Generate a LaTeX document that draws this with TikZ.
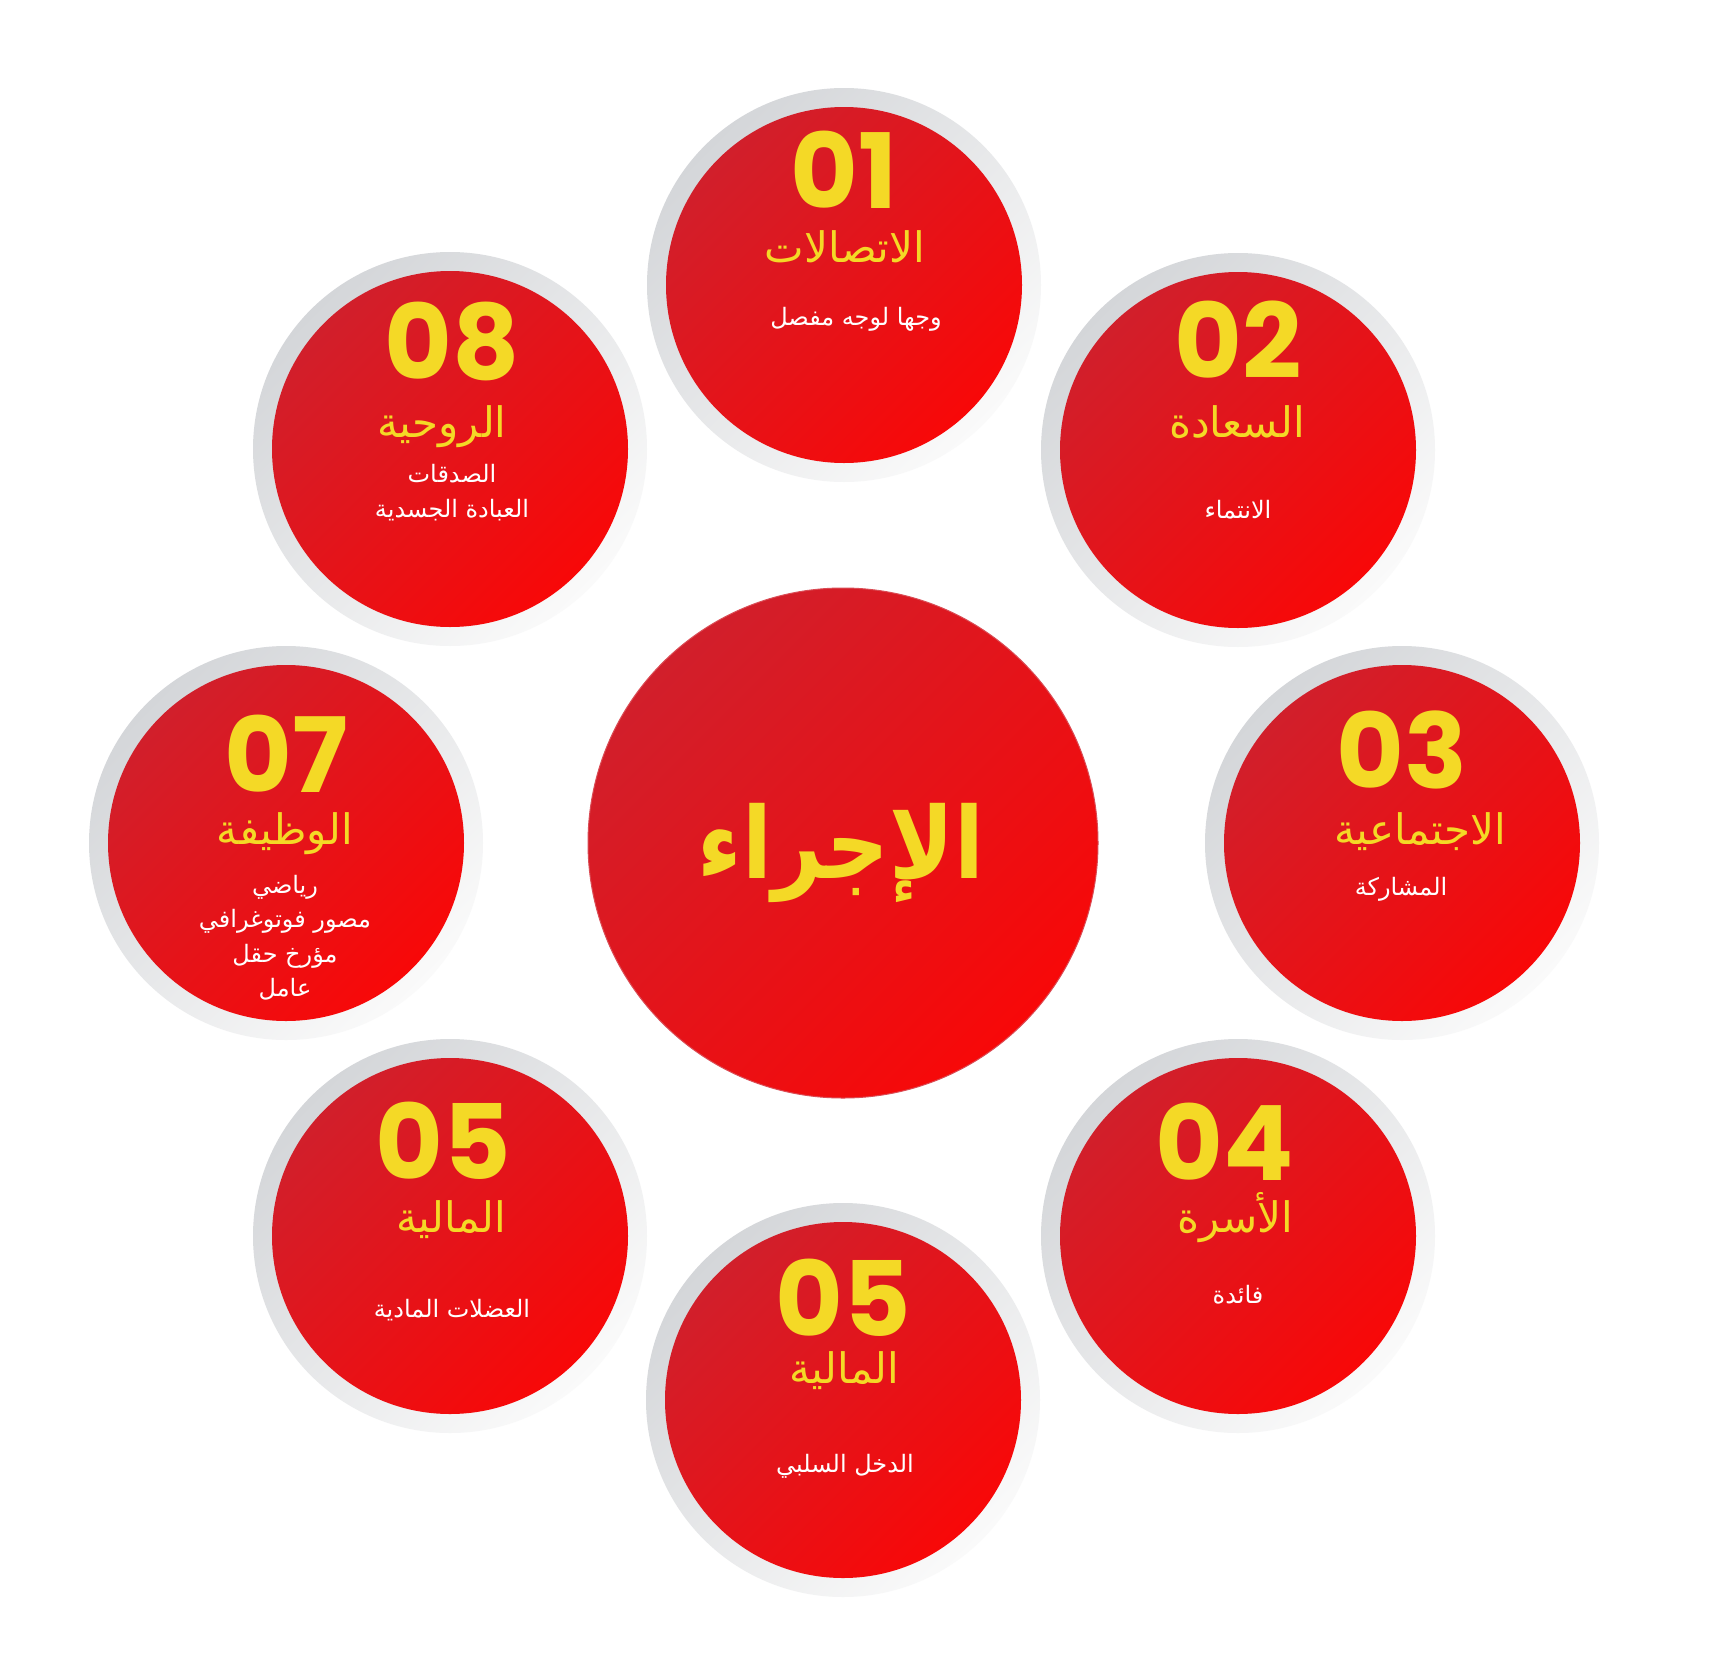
\documentclass[tikz,border=0pt]{standalone}
\usepackage{fontspec}
\usetikzlibrary{positioning}
\TeXXeTstate=1
\newfontfamily\arabicfont[Script=Arabic]{DejaVu Sans}
\newfontfamily\hubfont[Script=Arabic,FakeStretch=0.88]{DejaVu Sans}
\newfontfamily\numfont{Poppins}
\definecolor{ringgray}{RGB}{212,214,217}
\definecolor{ringwhite}{RGB}{250,250,250}
\definecolor{deepred}{RGB}{209,31,43}
\definecolor{brightred}{RGB}{248,8,8}
\definecolor{gold}{RGB}{244,217,38}

\begin{document}
\begin{tikzpicture}[
    x=1pt, y=-1pt,
    ring/.style={circle, minimum size=394pt, inner sep=0pt, top color=ringgray, bottom color=ringwhite, shading angle=45},
    disc/.style={circle, minimum size=356pt, inner sep=0pt, top color=deepred, bottom color=brightred, shading angle=45},
    hub/.style={disc, minimum size=510pt, draw=deepred!80, line width=1pt},
    num/.style={anchor=base, inner sep=0pt, text=gold, font=\numfont\bfseries\fontsize{104}{104}\selectfont},
    head/.style={anchor=base, inner sep=0pt, text=gold, font=\arabicfont\fontsize{42}{42}\selectfont},
    note/.style={anchor=base, inner sep=0pt, text=white, font=\arabicfont\fontsize{24}{24}\selectfont}
  ]
    \fill[white] (0,0) rectangle (1714,1660);
    \useasboundingbox (0,0) rectangle (1714,1660);

    % centre
    \node[hub] (hub) at (843,843) {};
    \node[anchor=base, inner sep=0pt, text=gold, font=\hubfont\bfseries\fontsize{99}{99}\selectfont] (hubtitle) at (841,878) {\beginR الإجراء\endR};

    % 01
    \node[ring] (ring1) at (844,285) {};
    \node[disc] (disc1) at (ring1.center) {};
    \node[num] (num1) at (844,208) {01};
    \node[head] (head1) at (845,262) {\beginR الاتصالات\endR};
    \node[note] (note1) at (856,325) {\beginR وجها لوجه مفصل\endR};

    % 02
    \node[ring] (ring2) at (1238,450) {};
    \node[disc] (disc2) at (ring2.center) {};
    \node[num] (num2) at (1238,378) {02};
    \node[head] (head2) at (1237,437) {\beginR السعادة\endR};
    \node[note] (note2) at (1238,518) {\beginR الانتماء\endR};

    % 03
    \node[ring] (ring3) at (1402,843) {};
    \node[disc] (disc3) at (ring3.center) {};
    \node[num] (num3) at (1402,788) {03};
    \node[head] (head3) at (1420,844) {\beginR الاجتماعية\endR};
    \node[note] (note3) at (1401,895) {\beginR المشاركة\endR};

    % 04
    \node[ring] (ring4) at (1238,1236) {};
    \node[disc] (disc4) at (ring4.center) {};
    \node[num] (num4) at (1225,1180) {04};
    \node[head] (head4) at (1235,1232) {\beginR الأسرة\endR};
    \node[note] (note4) at (1238,1303) {\beginR فائدة\endR};

    % 05 (bottom)
    \node[ring] (ring5) at (843,1400) {};
    \node[disc] (disc5) at (ring5.center) {};
    \node[num] (num5) at (843,1336) {05};
    \node[head] (head5) at (844,1383) {\beginR المالية\endR};
    \node[note] (note5) at (845,1472) {\beginR الدخل السلبي\endR};

    % 05 (left)
    \node[ring] (ring6) at (450,1236) {};
    \node[disc] (disc6) at (ring6.center) {};
    \node[num] (num6) at (443,1179) {05};
    \node[head] (head6) at (451,1232) {\beginR المالية\endR};
    \node[note] (note6) at (452,1317) {\beginR العضلات المادية\endR};

    % 07
    \node[ring] (ring7) at (286,843) {};
    \node[disc] (disc7) at (ring7.center) {};
    \node[num] (num7) at (286,792) {07};
    \node[head] (head7) at (285,844) {\beginR الوظيفة\endR};
    \node[note] (note7a) at (285,893) {\beginR رياضي\endR};
    \node[note] (note7b) at (285,927.5) {\beginR مصور فوتوغرافي\endR};
    \node[note] (note7c) at (285,962) {\beginR مؤرخ حقل\endR};
    \node[note] (note7d) at (285,996.5) {\beginR عامل\endR};

    % 08
    \node[ring] (ring8) at (450,449) {};
    \node[disc] (disc8) at (ring8.center) {};
    \node[num] (num8) at (452,379) {08};
    \node[head] (head8) at (442,437) {\beginR الروحية\endR};
    \node[note] (note8a) at (452,482) {\beginR الصدقات\endR};
    \node[note] (note8b) at (452,517) {\beginR العبادة الجسدية\endR};
\end{tikzpicture}
\end{document}
